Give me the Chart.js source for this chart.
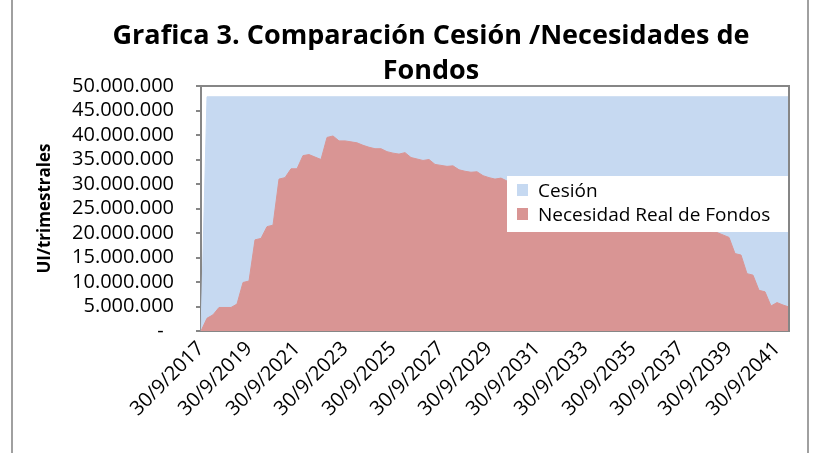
<!DOCTYPE html>
<html>
<head>
<meta charset="utf-8">
<script src="https://cdn.jsdelivr.net/npm/chart.js@4.4.1/dist/chart.umd.min.js"></script>
<style>
  html, body { margin: 0; padding: 0; background: #fff; }
  #wrap { width: 819px; height: 453px; }
</style>
</head>
<body>
<div id="wrap"><canvas id="grafica" width="819" height="453"></canvas></div>
<script>
const titulo = ['Grafica 3. Comparación Cesión /Necesidades de', 'Fondos'];
const tituloEje = 'UI/trimestrales';
const nombres = ['Cesión', 'Necesidad Real de Fondos'];

// fin de cada trimestre
const fechas = [
  '30/9/2017', '31/12/2017',
  '31/3/2018', '30/6/2018', '30/9/2018', '31/12/2018',
  '31/3/2019', '30/6/2019', '30/9/2019', '31/12/2019',
  '31/3/2020', '30/6/2020', '30/9/2020', '31/12/2020',
  '31/3/2021', '30/6/2021', '30/9/2021', '31/12/2021',
  '31/3/2022', '30/6/2022', '30/9/2022', '31/12/2022',
  '31/3/2023', '30/6/2023', '30/9/2023', '31/12/2023',
  '31/3/2024', '30/6/2024', '30/9/2024', '31/12/2024',
  '31/3/2025', '30/6/2025', '30/9/2025', '31/12/2025',
  '31/3/2026', '30/6/2026', '30/9/2026', '31/12/2026',
  '31/3/2027', '30/6/2027', '30/9/2027', '31/12/2027',
  '31/3/2028', '30/6/2028', '30/9/2028', '31/12/2028',
  '31/3/2029', '30/6/2029', '30/9/2029', '31/12/2029',
  '31/3/2030', '30/6/2030', '30/9/2030', '31/12/2030',
  '31/3/2031', '30/6/2031', '30/9/2031', '31/12/2031',
  '31/3/2032', '30/6/2032', '30/9/2032', '31/12/2032',
  '31/3/2033', '30/6/2033', '30/9/2033', '31/12/2033',
  '31/3/2034', '30/6/2034', '30/9/2034', '31/12/2034',
  '31/3/2035', '30/6/2035', '30/9/2035', '31/12/2035',
  '31/3/2036', '30/6/2036', '30/9/2036', '31/12/2036',
  '31/3/2037', '30/6/2037', '30/9/2037', '31/12/2037',
  '31/3/2038', '30/6/2038', '30/9/2038', '31/12/2038',
  '31/3/2039', '30/6/2039', '30/9/2039', '31/12/2039',
  '31/3/2040', '30/6/2040', '30/9/2040', '31/12/2040',
  '31/3/2041', '30/6/2041', '30/9/2041', '31/12/2041',
  '31/3/2042'
];

// millones de UI por trimestre
const cesion = [
  0, 47.8, 47.8, 47.8, 47.8, 47.8, 47.8, 47.8,
  47.8, 47.8, 47.8, 47.8, 47.8, 47.8, 47.8, 47.8,
  47.8, 47.8, 47.8, 47.8, 47.8, 47.8, 47.8, 47.8,
  47.8, 47.8, 47.8, 47.8, 47.8, 47.8, 47.8, 47.8,
  47.8, 47.8, 47.8, 47.8, 47.8, 47.8, 47.8, 47.8,
  47.8, 47.8, 47.8, 47.8, 47.8, 47.8, 47.8, 47.8,
  47.8, 47.8, 47.8, 47.8, 47.8, 47.8, 47.8, 47.8,
  47.8, 47.8, 47.8, 47.8, 47.8, 47.8, 47.8, 47.8,
  47.8, 47.8, 47.8, 47.8, 47.8, 47.8, 47.8, 47.8,
  47.8, 47.8, 47.8, 47.8, 47.8, 47.8, 47.8, 47.8,
  47.8, 47.8, 47.8, 47.8, 47.8, 47.8, 47.8, 47.8,
  47.8, 47.8, 47.8, 47.8, 47.8, 47.8, 47.8, 47.8,
  47.8, 47.8, 47.8
];

const necesidad = [
  0, 2.6, 3.3, 4.8, 4.8, 4.8, 5.5, 9.9,
  10.2, 18.6, 18.9, 21.3, 21.6, 31.0, 31.3, 33.1,
  33.1, 35.8, 36.0, 35.5, 35.0, 39.5, 39.8, 38.8,
  38.8, 38.6, 38.4, 37.9, 37.5, 37.2, 37.2, 36.6,
  36.3, 36.1, 36.4, 35.4, 35.1, 34.8, 35.0, 34.0,
  33.8, 33.6, 33.7, 32.9, 32.6, 32.4, 32.5, 31.7,
  31.3, 31.0, 31.2, 30.6, 30.2, 29.9, 30.0, 29.2,
  28.9, 28.6, 28.7, 27.9, 27.6, 27.3, 27.5, 26.7,
  26.4, 26.1, 26.3, 25.5, 25.1, 24.8, 25.0, 24.2,
  23.9, 23.6, 23.8, 23.0, 22.6, 22.3, 22.6, 21.8,
  21.4, 21.1, 21.3, 20.5, 20.4, 20.2, 20.1, 19.6,
  19.1, 15.8, 15.5, 11.7, 11.4, 8.3, 8.0, 5.1,
  5.8, 5.3, 4.9
];

const azul = 'rgb(198, 217, 241)';
const rosa = 'rgb(217, 149, 148)';
const gris = '#868686';

function miles(n) {
  return String(Math.round(n)).replace(/\B(?=(\d{3})+(?!\d))/g, '.');
}

// titulo, leyenda y marco dibujados a mano (la leyenda va dentro del area)
const adornos = {
  id: 'adornos',
  afterDraw(chart) {
    const c = chart.ctx;
    const a = chart.chartArea;
    c.save();
    c.strokeStyle = gris;
    c.lineWidth = 2;
    c.beginPath();
    c.moveTo(a.left, a.top);
    c.lineTo(a.right, a.top);
    c.lineTo(a.right, a.bottom);
    c.stroke();

    c.strokeStyle = '#a0a0a0';
    c.beginPath();
    c.moveTo(12, 0); c.lineTo(12, 453);
    c.moveTo(808, 0); c.lineTo(808, 453);
    c.stroke();

    c.fillStyle = '#000';
    c.textAlign = 'center';
    c.textBaseline = 'alphabetic';
    c.font = 'bold 27px "Open Sans"';
    c.fillText(titulo[0], 431, 44);
    c.fillText(titulo[1], 431, 79);

    c.fillStyle = '#fff';
    c.fillRect(507, 176, 281, 56);
    c.fillStyle = azul;
    c.fillRect(517, 184, 11, 12);
    c.fillStyle = rosa;
    c.fillRect(517, 208, 11, 12);
    c.fillStyle = '#000';
    c.textAlign = 'left';
    c.font = '19px "Open Sans"';
    c.fillText(nombres[0], 538, 197);
    c.fillText(nombres[1], 538, 221);
    c.restore();
  }
};

new Chart(document.getElementById('grafica'), {
  type: 'line',
  data: {
    labels: fechas,
    datasets: [
      {
        label: nombres[1], data: necesidad, order: 1,
        backgroundColor: rosa, borderColor: rosa, borderWidth: 1,
        fill: 'origin', pointRadius: 0, tension: 0
      },
      {
        label: nombres[0], data: cesion, order: 2,
        backgroundColor: azul, borderColor: azul, borderWidth: 1,
        fill: 'origin', pointRadius: 0, tension: 0
      }
    ]
  },
  options: {
    responsive: false,
    animation: false,
    devicePixelRatio: 1,
    layout: { padding: { top: 86, right: 30, bottom: 0, left: 0 } },
    plugins: {
      legend: { display: false },
      title: { display: false },
      tooltip: { enabled: false }
    },
    scales: {
      x: {
        type: 'category',
        offset: false,
        grid: { display: false, drawTicks: false, tickLength: 0 },
        border: { display: true, color: gris, width: 2 },
        ticks: {
          autoSkip: false, minRotation: 45, maxRotation: 45, padding: 6,
          color: '#000', font: { family: 'Open Sans', size: 20 },
          callback: function (v, i) { return i % 8 === 0 ? this.getLabelForValue(v) : null; }
        },
        afterFit: (s) => { s.height = 122; }
      },
      y: {
        min: 0, max: 50,
        grid: { drawOnChartArea: false, tickLength: 5, color: gris, lineWidth: 2 },
        border: { display: true, color: gris, width: 2 },
        ticks: {
          stepSize: 5, autoSkip: false, padding: 22, color: '#000',
          font: { family: 'Open Sans', size: 20 },
          callback: (v) => v === 0 ? '-  ' : miles(v * 1000000)
        },
        title: {
          display: true, text: tituloEje, color: '#000',
          font: { family: 'Open Sans', size: 17, weight: 'bold' },
          padding: { top: 35, bottom: 0 }
        },
        afterFit: (s) => { s.width = 201; }
      }
    }
  },
  plugins: [adornos]
});
</script>
</body>
</html>
